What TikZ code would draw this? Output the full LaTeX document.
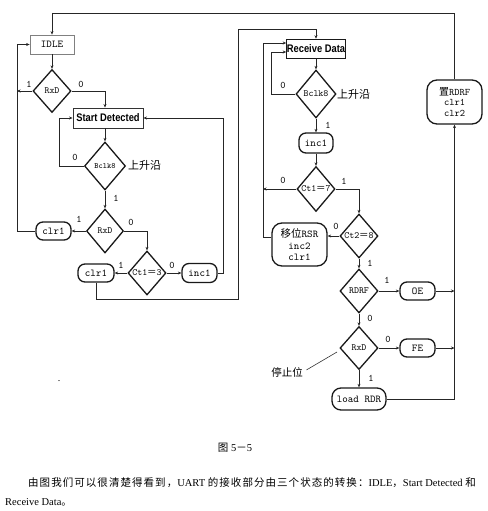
\documentclass[tikz,border=0pt]{standalone}
\usepackage{fontspec}
\setmainfont{Liberation Serif}
\newfontfamily\cjk{Noto Sans CJK SC}
\newfontfamily\cjkp[LetterSpace=10]{Noto Sans CJK SC}
\newfontfamily\narrow[FakeStretch=0.85]{Liberation Sans}
\usetikzlibrary{shapes.geometric,arrows.meta}
\begin{document}
\begin{tikzpicture}[x=1pt,y=-1pt,
  line/.style={draw=black!85, line width=0.9pt},
  arr/.style={line, -{Stealth[length=3.5pt,width=3pt]}},
  dia/.style={diamond, draw=black!90, line width=1.3pt, inner sep=0pt, minimum width=38pt, minimum height=44pt, font=\ttfamily\fontsize{9.5}{10}\selectfont},
  rbox/.style={rectangle, rounded corners=7pt, draw=black!90, line width=1.3pt, inner sep=0pt, font=\ttfamily\fontsize{10.5}{11}\selectfont},
  rect/.style={rectangle, inner sep=0pt, font=\ttfamily\fontsize{10.5}{11}\selectfont},
  bsans/.style={font=\narrow\bfseries\fontsize{11}{12}\selectfont},
  lab/.style={font=\ttfamily\fontsize{10}{10}\selectfont, inner sep=0pt},
  zh/.style={font=\cjk\fontsize{11}{11}\selectfont, inner sep=0pt},
]
\useasboundingbox (0,0) rectangle (487,511);
% coordinates
\coordinate (ytop) at (0,13);
\coordinate (x2) at (238,0);
\coordinate (y2) at (0,299);
\coordinate (y3) at (0,29);
\coordinate (x3) at (223,0);
\coordinate (x4) at (59,0);
\coordinate (x5) at (17,0);
\coordinate (li) at (271,52);
\coordinate (lo) at (263,43);
\coordinate (sp) at (337,352);

% left part
\node[rect, draw=black!50, line width=0.8pt, minimum width=44pt, minimum height=19pt] (idle) at (52,44.5) {IDLE};
\node[dia, minimum height=43pt] (rxa) at (52,91) {RxD};
\node[rect, bsans, draw=black!80, line width=0.9pt, minimum width=70pt, minimum height=20pt] (sd) at (108,118) {Start Detected};
\node[dia, minimum width=41pt, minimum height=48pt, font=\ttfamily\fontsize{8}{8}\selectfont] (bca) at (105,166) {Bclk8};
\node[zh, anchor=west] (sa) at (128,165) {上升沿};
\node[dia, minimum width=37pt] (rxb) at (105,231) {RxD};
\node[rbox, minimum width=35pt, minimum height=18pt] (ca) at (53.5,231) {clr1};
\node[dia] (c3) at (147,273) {Ct1{\cjk ＝}3};
\node[rbox, minimum width=36pt, minimum height=18pt] (cb) at (96,273) {clr1};
\node[rbox, minimum width=35pt, minimum height=19pt] (ia) at (199.5,273) {inc1};

% right part
\node[rect, bsans, draw=black!90, line width=0.6pt, minimum width=59pt, minimum height=19pt] (rd) at (316,48.5) {Receive Data};
\node[dia, minimum width=40pt, minimum height=48pt] (bcb) at (316,94) {Bclk8};
\node[zh, anchor=west] (sb) at (337,94) {上升沿};
\node[rbox, minimum width=34pt, minimum height=20pt] (ib) at (316,143) {inc1};
\node[dia, minimum height=45pt] (c17) at (316,189) {Ct1{\cjk ＝}7};
\node[dia] (c28) at (359,236) {Ct2{\cjk ＝}8};
\node[rbox, rounded corners=10pt, minimum width=55pt, minimum height=43pt, align=center] (rsr) at (299.5,244.5) {{\cjk 移位}RSR\\[1pt]inc2\\clr1};
\node[dia] (rdrf) at (359,291) {RDRF};
\node[rbox, minimum width=35pt, minimum height=18pt] (oe) at (417.5,291) {OE};
\node[dia, minimum height=43pt] (rxc) at (359,348) {RxD};
\node[rbox, minimum width=35pt, minimum height=18pt] (fe) at (417.5,348) {FE};
\node[rbox, rounded corners=9pt, minimum width=54pt, minimum height=22pt] (load) at (359,399) {load RDR};
\node[rbox, rounded corners=10pt, minimum width=55pt, minimum height=44pt, align=center, font=\ttfamily\fontsize{10}{10.5}\selectfont] (rdrfs) at (454.5,102) {{\cjk 置}RDRF\\clr1\\clr2};

\node[zh, font=\cjk\fontsize{10.5}{11}\selectfont] (stop) at (287,372) {停止位};
\node[font=\fontsize{10}{10}\selectfont, inner sep=0pt] (dot) at (59,381) {.};

% connectors left
\draw[line] (rdrfs.north) |- (idle.north |- ytop);
\draw[arr] (idle.north |- ytop) -- (idle.north);
\draw[arr] (idle.south) -- (rxa.north);
\draw[arr] (rxa.east) -| (bca.north |- sd.north);
\draw[arr] ([xshift=0.1pt]rxa.west) -- (rxa.west -| x5);
\draw[arr] (ca.west) -| (x5 |- idle.west) -- (idle.west);
\draw[arr] (bca.north |- sd.south) -- (bca.north);
\draw[arr] (bca.west) -| (x4 |- sd.west) -- (sd.west);
\draw[arr] (bca.south) -- (rxb.north);
\draw[arr] (rxb.west) -- (ca.east);
\draw[arr] (rxb.east) -| (c3.north);
\draw[arr] (c3.west) -- (cb.east);
\draw[arr] (c3.east) -- (ia.west);
\draw[arr] (ia.east) -| (x3 |- sd.east) -- (sd.east);
\draw[arr] (cb.south) |- (x2 |- y2) -- (x2 |- y3) -| (rd.north);

% connectors right
\draw[arr] (rd.south) -- (bcb.north);
\draw[arr] (bcb.west) -| (li) -- (li -| rd.west);
\draw[arr] ([yshift=7.5pt]rsr.west) -| (lo) -- (lo -| rd.west);
\draw[arr] (bcb.south) -- (ib.north);
\draw[arr] (ib.south) -- (c17.north);
\draw[arr] (c17.west) -- (c17.west -| lo);
\draw[arr] (c17.east) -| (c28.north);
\draw[arr] (c28.west) -- (c28.west -| rsr.east);
\draw[arr] (c28.south) -- (rdrf.north);
\draw[arr] (rdrf.east) -- (oe.west);
\draw[arr] (oe.east) -- (oe.east -| rdrfs.south);
\draw[arr] (rdrf.south) -- (rxc.north);
\draw[arr] (rxc.east) -- (fe.west);
\draw[arr] (fe.east) -- (fe.east -| rdrfs.south);
\draw[arr] (rxc.south) -- (load.north);
\draw[arr] (load.east) -| (rdrfs.south);
\draw[draw=black!80, line width=0.6pt, shorten <=4pt] (stop.east) -- (sp);

% labels
\node[lab] at (29,84) {1};
\node[lab] at (81,84) {0};
\node[lab] at (75,157) {0};
\node[lab] at (116,198) {1};
\node[lab] at (79,219) {1};
\node[lab] at (131,222) {0};
\node[lab] at (121,265) {1};
\node[lab] at (172,265) {0};
\node[lab] at (283,85) {0};
\node[lab] at (328,125) {1};
\node[lab] at (283,180) {0};
\node[lab] at (344,181) {1};
\node[lab] at (336,226) {0};
\node[lab] at (370,263) {1};
\node[lab] at (387,280) {1};
\node[lab] at (370,318) {0};
\node[lab] at (388,339) {0};
\node[lab] at (371,378) {1};

% caption and text
\node[font=\fontsize{10.5}{12}\selectfont, inner sep=0pt] (cap) at (235,448) {{\cjk 图} 5{\cjk －}5};
\node[font=\fontsize{10.5}{12}\selectfont, inner sep=0pt, anchor=west] (p1) at (28,483) {{\cjkp 由图我们可以很清楚得看到，}UART {\cjkp 的接收部分由三个状态的转换：}IDLE{\cjkp ，}Start Detected {\cjkp 和}};
\node[font=\fontsize{10.5}{12}\selectfont, inner sep=0pt, anchor=west] (p2) at (5,502) {Receive Data{\cjk 。}};
\end{tikzpicture}
\end{document}
